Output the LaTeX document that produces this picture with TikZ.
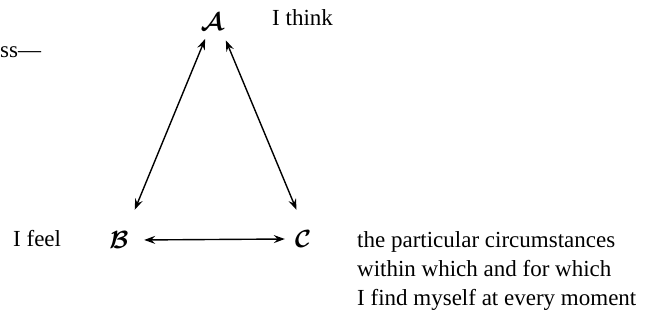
\documentclass[tikz,border=0pt]{standalone}
\usepackage{fontspec}
\setmainfont{Liberation Serif}
\usetikzlibrary{arrows.meta}
\begin{document}
\begin{tikzpicture}[x=1pt, y=-1pt,
  every node/.style={font=\fontsize{23}{29}\selectfont},
  letter/.style={circle, inner sep=0pt, minimum size=36pt, font=\boldmath\fontsize{31}{31}\selectfont},
  words/.style={anchor=base west, inner sep=0pt},
  link/.style={{Stealth[length=11pt,width=8pt,inset=4pt]}-{Stealth[length=11pt,width=8pt,inset=4pt]}, line width=1.4pt}]
  \useasboundingbox (0,0) rectangle (647,322);
  \node[letter] (A) at (212,22) {$\mathcal{A}$};
  \node[letter] (B) at (119,240) {$\mathcal{B}$};
  \node[letter] (C) at (303,239) {$\mathcal{C}$};
  \node[words] (rest) at (0,57) {ss—};
  \node[words] (think) at (272,25) {I think};
  \node[words] (feel) at (13,246) {I feel};
  % base anchor sits on the last line
  \node[words, align=left] (world) at (357,305) {the particular circumstances\\
    within which and for which\\ I find myself at every moment};
  \draw[link, shorten >=16pt] (A.-112) -- (B.58);
  \draw[link, shorten <=5pt, shorten >=12pt] (A.-49) -- (C.96);
  \draw[link, shorten <=7pt] (B.0) -- (C.180);
\end{tikzpicture}
\end{document}
